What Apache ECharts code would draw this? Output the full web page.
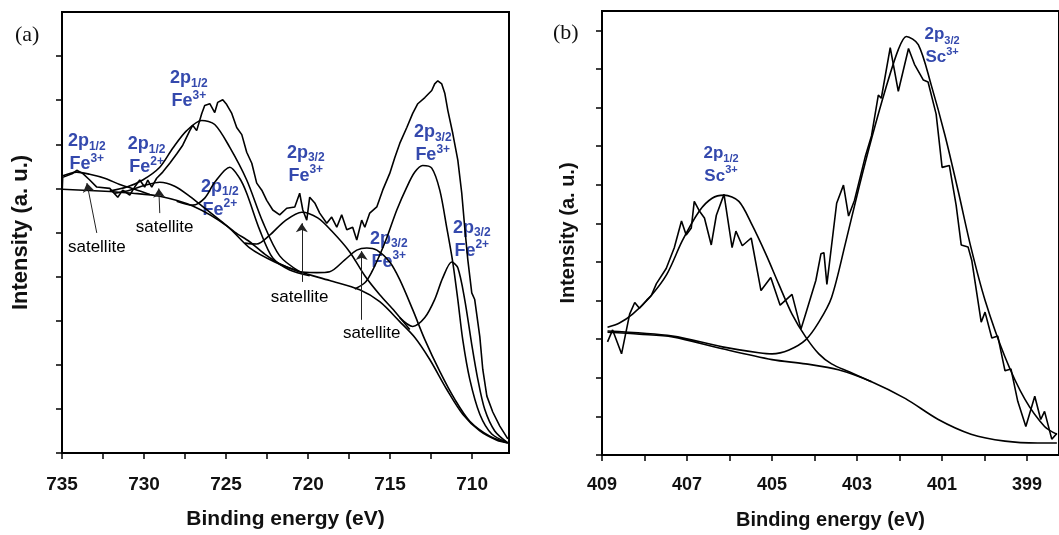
<!DOCTYPE html>
<html>
<head>
<meta charset="utf-8">
<title>Fe 2p / Sc 2p XPS</title>
<script src="https://cdn.jsdelivr.net/npm/echarts@6/dist/echarts.min.js"></script>
<style>
  html, body { margin: 0; padding: 0; background: #fff; }
  #chart { width: 1059px; height: 535px; }
</style>
</head>
<body>
<div id="chart"></div>
<script>
// ---- panel (a): Fe 2p, [binding energy eV, intensity a.u.] ----
const feRaw = [
  [735.00,5.80],[734.96,6.25],[734.35,6.34],[734.10,6.41],[733.74,6.34],[733.31,6.19],[732.88,6.03],[732.09,6.00],
  [731.60,5.80],[731.30,5.96],[730.87,5.85],[730.57,6.03],[730.26,6.19],[729.96,6.03],[729.77,6.19],[729.53,6.03],
  [729.23,6.23],[728.86,6.37],[728.43,6.57],[727.99,6.79],[727.64,6.98],[727.21,7.31],[727.03,7.43],[726.79,7.31],
  [726.48,7.70],[726.30,7.88],[725.99,7.92],[725.69,7.72],[725.51,7.95],[725.20,8.01],[724.96,7.90],[724.65,7.70],
  [724.35,7.38],[724.04,7.22],[723.74,6.82],[723.43,6.57],[723.13,6.12],[722.82,5.96],[722.52,5.73],[722.15,5.51],
  [721.73,5.40],[721.30,5.55],[720.81,5.58],[720.51,5.89],[720.32,5.51],[720.08,5.28],[719.90,5.80],[719.59,5.67],
  [719.29,5.44],[718.86,5.21],[718.56,5.35],[718.25,5.12],[717.95,5.40],[717.64,5.06],[717.28,5.12],[717.03,4.83],
  [716.73,5.28],[716.54,5.12],[716.24,5.44],[715.81,5.58],[715.45,5.96],[715.02,6.34],[714.71,6.70],[714.41,7.02],
  [713.98,7.38],[713.62,7.70],[713.31,7.92],[712.88,8.06],[712.46,8.22],[712.28,8.37],[712.09,8.44],[711.85,8.37],
  [711.66,8.15],[711.48,7.77],[711.18,7.25],[710.87,6.64],[710.63,5.89],[710.45,5.12],[710.26,4.38],[710.02,3.63],
  [709.84,3.48],[709.53,2.64],[709.35,1.90],[709.10,1.29],[708.74,0.93],[708.31,0.61],[707.82,0.32]
];
const feBackground = [
  [735.00,5.98],[732.70,5.94],[730.69,5.89],[729.04,5.82],[727.03,5.60],[724.96,5.15],[723.56,4.65],[722.03,4.33],
  [720.51,4.11],[718.68,3.91],[716.85,3.70],[715.63,3.43],[714.41,2.98],[713.49,2.62],[712.58,2.12],[711.54,1.44],
  [710.57,0.88],[709.53,0.50],[708.49,0.29],[707.82,0.23]
];
const feSat734 = [[735.00,6.28],[734.53,6.34],[734.10,6.37],[733.31,6.32],[732.40,6.23],[731.48,6.09],[730.57,5.98],[729.65,5.86]];
const feSat729 = [[731.79,5.89],[730.87,5.96],[729.96,6.07],[729.04,6.14],[728.13,6.05],[727.21,5.82],[726.30,5.55],
  [725.38,5.28],[724.47,5.01],[723.56,4.79],[722.64,4.51],[721.73,4.29],[720.51,4.11]];
const fe3p12 = [[732.09,5.94],[731.05,6.03],[730.08,6.19],[729.04,6.48],[728.25,6.91],[727.40,7.31],[726.48,7.54],
  [725.69,7.45],[724.77,6.93],[723.74,6.19],[722.76,5.24],[721.73,4.47],[720.51,4.11]];
const fe2p12 = [[728.01,5.71],[727.03,5.62],[726.30,5.78],[725.69,6.14],[724.77,6.48],[724.17,6.23],[723.74,5.89],
  [722.95,5.06],[722.15,4.42],[721.12,4.15],[719.90,4.02]];
const feSat720 = [[723.86,4.76],[723.13,4.74],[722.34,4.94],[721.42,5.26],[720.38,5.46],[719.41,5.33],[718.50,5.01],
  [717.46,4.56],[716.54,4.02],[715.63,3.59],[714.71,3.21],[713.80,2.80]];
const feSat716 = [[720.51,4.11],[719.47,4.09],[718.68,4.11],[717.76,4.38],[717.03,4.60],[716.42,4.65],[715.81,4.60],
  [715.02,4.33],[714.41,3.93],[713.62,3.25],[712.88,2.57],[711.97,1.85],[711.06,1.22],[710.14,0.72],[708.92,0.38],[707.82,0.23]];
const fe3p32 = [[717.15,3.72],[716.54,3.86],[716.11,4.11],[715.63,4.49],[715.20,4.88],[714.59,5.51],[713.98,6.03],
  [713.49,6.37],[713.01,6.52],[712.46,6.46],[711.97,5.96],[711.54,5.10],[711.18,4.33],[710.87,3.48],[710.57,2.57],
  [710.14,1.67],[709.53,0.88],[708.80,0.43],[707.89,0.25]];
const fe2p32 = [[714.41,3.07],[713.62,2.87],[712.88,3.07],[712.28,3.48],[711.79,3.97],[711.24,4.33],[710.87,4.20],
  [710.45,3.48],[710.02,2.46],[709.65,1.67],[709.23,0.99],[708.62,0.50],[707.82,0.23]];
const feTicks = [710, 712.5, 715, 717.5, 720, 722.5, 725, 727.5, 730, 732.5, 735];
const feTickLabels = [710, 715, 720, 725, 730, 735];
// [energy, intensity, orbital subscript, element, charge]
const feFitLabels = [
  [733.49,6.82,'1/2','Fe','3+'],[729.84,6.75,'1/2','Fe','2+'],[727.27,8.24,'1/2','Fe','3+'],[725.38,5.78,'1/2','Fe','2+'],
  [720.14,6.55,'3/2','Fe','3+'],[715.08,4.60,'3/2','Fe','3+'],[712.40,7.01,'3/2','Fe','3+'],[710.02,4.85,'3/2','Fe','2+']
];
const feSatLabels = [[732.88,4.67],[728.74,5.12],[720.51,3.54],[716.12,2.71]];
// [tail E, tail I, tip E, tip I]
const feArrows = [[732.88,4.99,733.48,6.12],[729.04,5.44,729.10,6.00],[720.38,3.88,720.38,5.21],[716.73,3.02,716.73,4.58]];

// ---- panel (b): Sc 2p ----
const scRaw = [
  [408.87,2.93],[408.75,3.24],[408.54,2.62],[408.35,3.65],[408.23,3.95],[408.12,3.80],[407.95,4.01],[407.84,4.13],
  [407.72,4.44],[407.49,4.83],[407.30,5.37],[407.13,6.06],[407.02,5.70],[406.90,5.88],[406.83,6.57],[406.71,6.32],
  [406.59,6.14],[406.43,5.44],[406.31,6.21],[406.13,6.75],[405.94,5.37],[405.85,5.80],[405.70,5.42],[405.49,5.62],
  [405.26,4.26],[405.03,4.60],[404.81,3.88],[404.53,4.16],[404.32,3.26],[404.21,3.65],[403.97,4.52],[403.85,5.21],
  [403.78,5.24],[403.71,4.42],[403.48,6.52],[403.32,6.99],[403.20,6.19],[403.06,6.60],[402.80,7.76],[402.66,8.27],
  [402.50,9.32],[402.43,9.24],[402.22,10.55],[402.03,9.42],[401.79,10.53],[401.65,10.12],[401.44,9.71],[401.33,9.66],
  [401.14,8.83],[401.00,7.45],[400.83,7.50],[400.67,6.47],[400.55,5.44],[400.39,5.39],[400.30,5.03],[400.08,3.44],
  [399.99,3.70],[399.83,3.03],[399.69,3.08],[399.52,2.18],[399.38,2.23],[399.22,1.39],[399.03,0.74],[398.82,1.52],
  [398.68,0.92],[398.59,1.13],[398.42,0.41],[398.30,0.56]
];
const scBackground = [[408.87,3.18],[408.12,3.13],[407.34,3.06],[406.17,2.75],[405.00,2.47],[404.21,2.36],[403.44,2.21],
  [402.66,1.90],[401.86,1.46],[401.09,0.92],[400.32,0.54],[399.52,0.36],[398.75,0.31],[398.30,0.31]];
const sc2p12 = [[408.87,3.31],[408.59,3.42],[408.28,3.65],[407.88,4.08],[407.48,4.67],[407.11,5.55],[406.71,6.32],
  [406.41,6.65],[406.13,6.73],[405.78,6.57],[405.47,5.96],[405.14,5.19],[404.84,4.42],[404.53,3.65],[404.21,3.06],
  [403.90,2.62],[403.60,2.36],[403.20,2.16],[402.66,1.90]];
const sc2p32 = [[408.87,3.21],[407.34,3.08],[406.17,2.80],[405.31,2.65],[405.00,2.62],[404.60,2.72],[404.21,2.98],
  [403.90,3.44],[403.60,4.08],[403.27,5.50],[402.96,6.91],[402.66,8.19],[402.33,9.48],[402.03,10.50],[401.84,10.84],
  [401.56,10.63],[401.26,9.60],[400.93,8.27],[400.62,6.83],[400.32,5.37],[399.99,4.01],[399.52,2.54],[399.05,1.44],
  [398.59,0.74],[398.30,0.54]];
const scTicks = [399, 400, 401, 402, 403, 404, 405, 406, 407, 408, 409];
const scTickLabels = [399, 401, 403, 405, 407, 409];
const scFitLabels = [[406.20,7.52,'1/2','Sc','3+'],[401.00,10.59,'3/2','Sc','3+']];

const BLUE = '#3449ad';
const FONT = '"Liberation Sans", Arial, sans-serif';

var chartDom = document.getElementById('chart');
var myChart = echarts.init(chartDom, null, { renderer: 'canvas' });

function curve(data, idx, smooth) {
    return {
        type: 'line',
        xAxisIndex: idx,
        yAxisIndex: idx,
        data: data,
        showSymbol: false,
        smooth: smooth,
        silent: true,
        lineStyle: { color: '#000', width: 1.6 }
    };
}

function orbitalLabels(data, idx, size) {
    return {
        type: 'scatter',
        xAxisIndex: idx,
        yAxisIndex: idx,
        data: data,
        symbolSize: 1,
        silent: true,
        itemStyle: { color: 'rgba(0,0,0,0)', opacity: 1 },
        label: {
            show: true,
            position: 'inside',
            textBorderWidth: 0,
            formatter: function (p) {
                return '{m|2p}{s|' + p.data[2] + '}\n{m|' + p.data[3] + '}{u|' + p.data[4] + '}';
            },
            rich: {
                m: { fontSize: size, fontWeight: 'bold', color: BLUE, fontFamily: FONT, lineHeight: 23 },
                s: { fontSize: size - 6, fontWeight: 'bold', color: BLUE, fontFamily: FONT, lineHeight: 16, verticalAlign: 'bottom' },
                u: { fontSize: size - 6, fontWeight: 'bold', color: BLUE, fontFamily: FONT, lineHeight: 18, verticalAlign: 'top' }
            }
        }
    };
}

function xAxisFor(idx, min, max, ticks, labels, labelSize, nameSize, nameGap, margin) {
    return {
        type: 'value',
        gridIndex: idx,
        inverse: true,
        min: min,
        max: max,
        axisLine: { lineStyle: { color: '#000', width: 2 } },
        axisTick: { customValues: ticks, length: 6, lineStyle: { color: '#000', width: 1.5 } },
        axisLabel: { customValues: labels, fontSize: labelSize, fontWeight: 'bold', color: '#111', margin: margin, fontFamily: FONT },
        splitLine: { show: false },
        name: 'Binding energy (eV)',
        nameLocation: 'middle',
        nameGap: nameGap,
        nameTextStyle: { fontSize: nameSize, fontWeight: 'bold', color: '#111', fontFamily: FONT }
    };
}

function yAxisFor(idx, max, ticks, nameSize, nameGap) {
    return {
        type: 'value',
        gridIndex: idx,
        min: 0,
        max: max,
        interval: 1,
        axisLine: { show: true, lineStyle: { color: '#000', width: 2 } },
        axisTick: { show: true, customValues: ticks, length: 6, lineStyle: { color: '#000', width: 1.5 } },
        axisLabel: { show: false },
        splitLine: { show: false },
        name: 'Intensity (a. u.)',
        nameLocation: 'middle',
        nameGap: nameGap,
        nameTextStyle: { fontSize: nameSize, fontWeight: 'bold', color: '#111', fontFamily: FONT }
    };
}

var arrowSeries = curve(feBackground, 0, 0.3);
arrowSeries.markLine = {
    silent: true,
    animation: false,
    symbol: ['none', 'arrow'],
    symbolSize: 9,
    label: { show: false },
    lineStyle: { color: '#222', width: 1, type: 'solid' },
    data: feArrows.map(function (a) {
        return [{ coord: [a[0], a[1]] }, { coord: [a[2], a[3]] }];
    })
};

var option = {
    animation: false,
    textStyle: { fontFamily: FONT },
    title: [
        { text: '(a)', left: 15, top: 24, padding: 0,
          textStyle: { fontFamily: '"Liberation Serif", "Times New Roman", serif', fontWeight: 'normal', fontSize: 22, color: '#111' } },
        { text: '(b)', left: 553, top: 22, padding: 0,
          textStyle: { fontFamily: '"Liberation Serif", "Times New Roman", serif', fontWeight: 'normal', fontSize: 22, color: '#111' } }
    ],
    grid: [
        { left: 62, top: 12, width: 447, height: 442, show: true, borderColor: '#000', borderWidth: 2, backgroundColor: 'transparent' },
        { left: 602, top: 11, width: 459, height: 448, show: true, borderColor: '#000', borderWidth: 2, backgroundColor: 'transparent' }
    ],
    xAxis: [
        xAxisFor(0, 707.75, 735, feTicks, feTickLabels, 19, 21, 56, 22),
        xAxisFor(1, 398.25, 409, scTicks, scTickLabels, 18, 20, 55, 21)
    ],
    yAxis: [
        yAxisFor(0, 10, [0, 1, 2, 3, 4, 5, 6, 7, 8, 9], 22, 30),
        yAxisFor(1, 11.5, [0, 1, 2, 3, 4, 5, 6, 7, 8, 9, 10, 11], 20, 24)
    ],
    series: [
        curve(feRaw, 0, false),
        arrowSeries,
        curve(feSat734, 0, 0.3),
        curve(feSat729, 0, 0.3),
        curve(fe3p12, 0, 0.3),
        curve(fe2p12, 0, 0.3),
        curve(feSat720, 0, 0.3),
        curve(feSat716, 0, 0.3),
        curve(fe3p32, 0, 0.3),
        curve(fe2p32, 0, 0.3),
        orbitalLabels(feFitLabels, 0, 18),
        {
            type: 'scatter',
            xAxisIndex: 0,
            yAxisIndex: 0,
            data: feSatLabels,
            symbolSize: 1,
            silent: true,
            itemStyle: { color: 'rgba(0,0,0,0)', opacity: 1 },
            label: { show: true, position: 'inside', textBorderWidth: 0, formatter: 'satellite', fontSize: 17, color: '#000', fontFamily: FONT }
        },
        curve(scRaw, 1, false),
        curve(scBackground, 1, 0.3),
        curve(sc2p12, 1, 0.3),
        curve(sc2p32, 1, 0.3),
        orbitalLabels(scFitLabels, 1, 17)
    ]
};

option && myChart.setOption(option);
</script>
</body>
</html>
